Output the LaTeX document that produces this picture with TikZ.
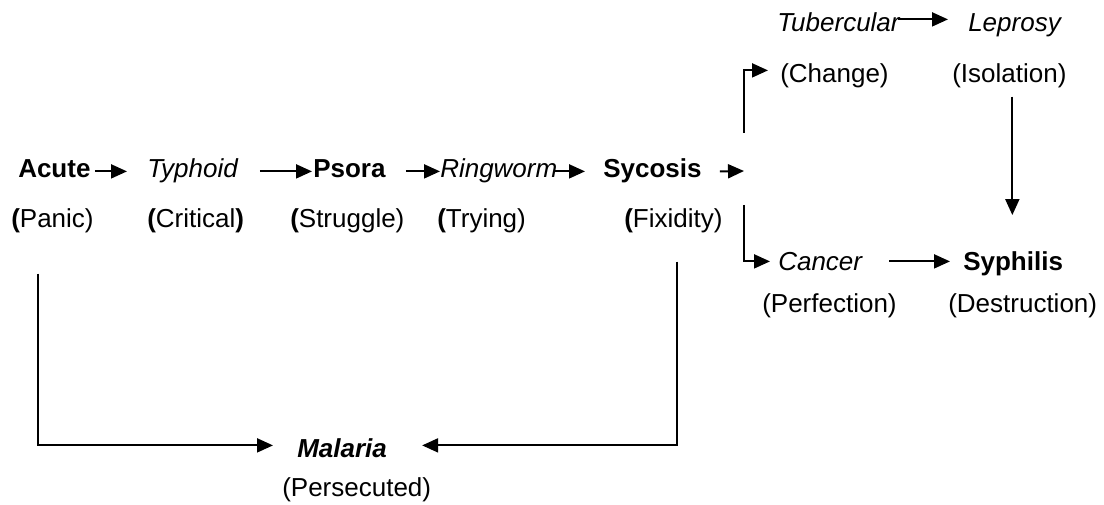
\documentclass[tikz,border=0pt]{standalone}
\usepackage{fontspec}
\setmainfont{Liberation Sans}
\usetikzlibrary{arrows.meta,calc}
\begin{document}
\begin{tikzpicture}[x=0.75pt,y=-0.75pt,
  txt/.style={inner sep=0pt, anchor=base west, font=\fontsize{19.5}{23}\selectfont, text height=14pt, text depth=4.1pt},
  arr/.style={line width=1.5pt, -{Triangle[length=12pt,width=10.5pt]}},
  ln/.style={line width=1.5pt}]
\useasboundingbox (0,0) rectangle (1104,505);
% row 1
\node[txt] (acute) at (18,178) {\textbf{Acute}};
\node[txt] (typhoid) at (147,178) {\textit{Typhoid}};
\node[txt] (psora) at (313,178) {\textbf{Psora}};
\node[txt] (ringworm) at (440,178) {\textit{Ringworm}};
\node[txt] (sycosis) at (603,178) {\textbf{Sycosis}};
% row 2
\node[txt] (panic) at (11,228) {\textbf{(}Panic)};
\node[txt] (critical) at (147,228) {\textbf{(}Critical\textbf{)}};
\node[txt] (struggle) at (290,228) {\textbf{(}Struggle)};
\node[txt] (trying) at (437,228) {\textbf{(}Trying)};
\node[txt] (fixidity) at (624,228) {\textbf{(}Fixidity)};
% top right
\node[txt] (tubercular) at (777,32) {\textit{Tubercular}};
\node[txt] (leprosy) at (968,32) {\textit{Leprosy}};
\node[txt] (change) at (780,83) {(Change)};
\node[txt] (isolation) at (952,83) {(Isolation)};
% lower right
\node[txt] (cancer) at (778,271) {\textit{Cancer}};
\node[txt] (syphilis) at (963,271) {\textbf{Syphilis}};
\node[txt] (perfection) at (762,313) {(Perfection)};
\node[txt] (destruction) at (948,313) {(Destruction)};
% bottom
\node[txt] (malaria) at (297,458) {\textbf{\textit{Malaria}}};
\node[txt] (persecuted) at (282,497) {(Persecuted)};
\coordinate (fork) at (744,171);
% row 1 arrows
\draw[arr] ($(acute.east)+(4,0)$) -- ($(typhoid.west)+(-20,0)$);
\draw[arr] ($(typhoid.east)+(21,0)$) -- ($(psora.west)+(-1,0)$);
\draw[arr] ($(psora.east)+(20,0)$) -- (ringworm.west);
\draw[arr] ($(ringworm.east)+(-4,0)$) -- ($(sycosis.west)+(-18,0)$);
\draw[arr] ($(sycosis.east)+(18,0)$) -- (fork);
% fork branches
\draw[arr] ($(fork)+(0,-38)$) |- ($(change.west)+(-12,-6)$);
\draw[arr] ($(fork)+(0,34)$) |- ($(cancer.west)+(-8,-3)$);
% right side
\draw[arr] ($(tubercular.east)+(-3,-6)$) -- ($(leprosy.west)+(-20,-6)$);
\draw[arr] ($(isolation.south)+(3,8)$) -- ($(isolation.south |- syphilis.north)+(3,-37)$);
\draw[arr] ($(cancer.east)+(26,-3)$) -- ($(syphilis.west)+(-13,-3)$);
% bottom connectors
\draw[arr] ($(panic.south west)+(27,40)$) |- ($(malaria.west)+(-24,-6)$);
\draw[arr] ($(fixidity.south west)+(53,28)$) |- ($(malaria.east)+(35,-6)$);
\end{tikzpicture}
\end{document}
